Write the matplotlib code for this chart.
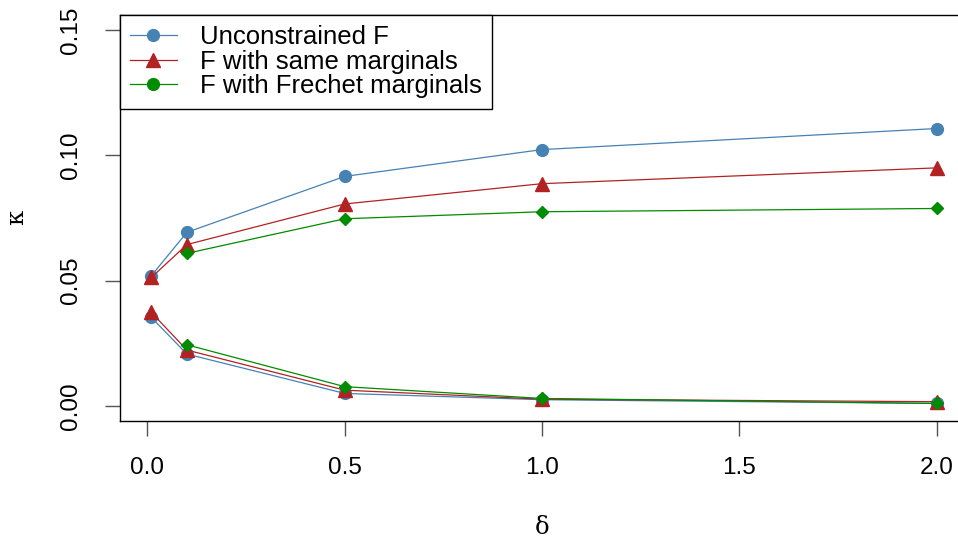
import matplotlib
matplotlib.use("Agg")
import matplotlib.pyplot as plt

# delta values
delta = [0.01, 0.1, 0.5, 1.0, 2.0]
delta_fr = [0.1, 0.5, 1.0, 2.0]

# upper curves
unc_hi = [0.0520, 0.0693, 0.0916, 0.1023, 0.1107]
same_hi = [0.0513, 0.0644, 0.0806, 0.0887, 0.0950]
frech_hi = [0.0609, 0.0747, 0.0775, 0.0788]

# lower curves
unc_lo = [0.0353, 0.0207, 0.0050, 0.0025, 0.0010]
same_lo = [0.0373, 0.0223, 0.0063, 0.0027, 0.0017]
frech_lo = [0.0244, 0.0077, 0.0030, 0.0010]

labels = ["Unconstrained F", "F with same marginals", "F with Frechet marginals"]
c_blue, c_red, c_green = "#4682B4", "#B22222", "#008B00"

plt.rcParams['font.family'] = ['Liberation Sans', 'DejaVu Sans']
fs = 17.5
fs_leg = 18.5

fig = plt.figure(figsize=(9.58, 5.42), dpi=100)
ax = fig.add_axes([120 / 958, 1 - 421 / 542, 848 / 958, 406 / 542])

lw = 0.9
ax.plot(delta, unc_hi, color=c_blue, lw=lw, marker='o', ms=8.5)
ax.plot(delta, same_hi, color=c_red, lw=lw, marker='^', ms=9.5)
ax.plot(delta_fr, frech_hi, color=c_green, lw=lw, marker='D', ms=6)
ax.plot(delta, unc_lo, color=c_blue, lw=lw, marker='o', ms=8.5)
ax.plot(delta, same_lo, color=c_red, lw=lw, marker='^', ms=9.5)
ax.plot(delta_fr, frech_lo, color=c_green, lw=lw, marker='D', ms=6)

# legend handles (green shown as circle in the legend)
h1, = ax.plot([], [], color=c_blue, lw=lw, marker='o', ms=8.5)
h2, = ax.plot([], [], color=c_red, lw=lw, marker='^', ms=9.5)
h3, = ax.plot([], [], color=c_green, lw=lw, marker='o', ms=8.5)
leg = ax.legend([h1, h2, h3], labels, loc='upper left', bbox_to_anchor=(0, 1),
                borderaxespad=0, fontsize=fs_leg, labelspacing=0.02,
                handlelength=1.8, handletextpad=0.9, borderpad=0.4,
                fancybox=False, framealpha=1, edgecolor='black')
leg.get_frame().set_linewidth(1.0)

ax.set_xlim(-0.0696, 2.0796)
ax.set_ylim(-0.006, 0.156)
ax.set_xticks([0.0, 0.5, 1.0, 1.5, 2.0])
ax.set_xticklabels(["0.0", "0.5", "1.0", "1.5", "2.0"])
ax.set_yticks([0.0, 0.05, 0.10, 0.15])
ax.set_yticklabels(["0.00", "0.05", "0.10", "0.15"], rotation=90, va='center')
ax.tick_params(axis='both', length=11, width=1, color='#555555', labelsize=fs)
ax.tick_params(axis='x', pad=15)
ax.tick_params(axis='y', pad=16)
for s in ax.spines.values():
    s.set_linewidth(1.0)

fig.text(542 / 958, 1 - 527 / 542, "δ", fontsize=fs, family='DejaVu Serif',
         ha='center', va='center')
fig.text(17 / 958, 1 - 217 / 542, "κ", fontsize=fs, family='DejaVu Serif',
         ha='center', va='center', rotation=90)

fig.savefig("out.png", dpi=100)
